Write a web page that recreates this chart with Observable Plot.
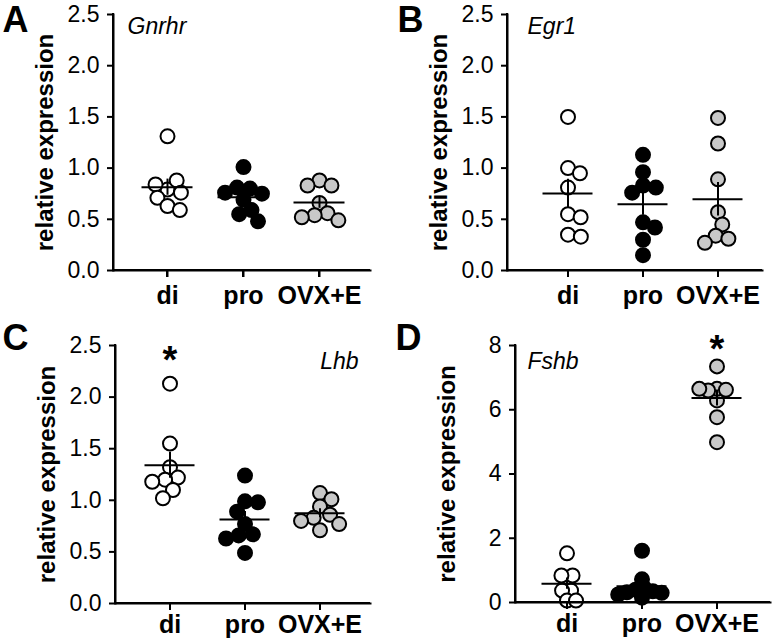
<!DOCTYPE html>
<html><head><meta charset="utf-8">
<script src="https://cdn.jsdelivr.net/npm/d3@7"></script>
<script src="https://cdn.jsdelivr.net/npm/@observablehq/plot@0.6"></script>
<style>
body{margin:0;background:#fff;}
#fig{position:relative;width:773px;height:644px;background:#fff;}
.p{position:absolute;}
.ax{position:absolute;background:#000;z-index:10;}
</style></head><body><div id="fig"></div>
<script>
const groups = ["di", "pro", "OVX+E"];
const groupColors = ["#ffffff", "#000000", "#c8c8c8"];

// Panel A — Gnrhr
const gnrhrDi  = [1.31, 0.79, 0.88, 0.84, 0.76, 0.71, 0.63, 0.59];
const gnrhrPro = [1.01, 0.69, 0.80, 0.81, 0.76, 0.75, 0.59, 0.55, 0.48];
const gnrhrOvx = [0.88, 0.66, 0.83, 0.83, 0.56, 0.54, 0.52, 0.49];
// Panel B — Egr1
const egr1Di  = [1.50, 1.00, 0.95, 0.81, 0.55, 0.52, 0.35, 0.33];
const egr1Pro = [1.13, 0.96, 0.83, 0.81, 0.76, 0.47, 0.42, 0.30, 0.15];
const egr1Ovx = [1.49, 1.24, 0.89, 0.57, 0.45, 0.34, 0.31, 0.27];
// Panel C — Lhb
const lhbDi  = [2.13, 1.55, 1.32, 1.22, 1.20, 1.18, 1.10, 1.02];
const lhbPro = [1.24, 0.99, 0.98, 0.89, 0.77, 0.67, 0.66, 0.63, 0.49];
const lhbOvx = [1.07, 1.01, 0.94, 0.86, 0.83, 0.80, 0.77, 0.71];
// Panel D — Fshb
const fshbDi  = [1.53, 0.62, 0.84, 0.84, 0.37, 0.37, 0.06, 0.06];
const fshbPro = [1.61, 0.72, 0.45, 0.40, 0.35, 0.32, 0.30, 0.25, 0.15];
const fshbOvx = [7.35, 6.29, 6.65, 6.62, 6.60, 6.65, 5.77, 4.99];

// significance markers (group, value level)
const starsC = [{group: "di", y: 2.35}];
const starsD = [{group: "OVX+E", y: 7.87}];

const yTicksA = [0, 0.5, 1.0, 1.5, 2.0, 2.5];
const yTicksD = [0, 2, 4, 6, 8];

const OUTER = 0.19;
const panels = [
  {letter: "A", gene: "Gnrhr", series: [gnrhrDi, gnrhrPro, gnrhrOvx], ticks: yTicksA, fmt: ".1f", stars: [],
   left: 0, top: 0, width: 386, height: 322, mL: 113, mR: 16, mT: 14, mB: 52, align: 0.55, xPad: 9,
   geneAnchor: "top-left", geneDx: 14, geneDy: 3, letterDx: -98, letterDy: 6, pad: -1},
  {letter: "B", gene: "Egr1", series: [egr1Di, egr1Pro, egr1Ovx], ticks: yTicksA, fmt: ".1f", stars: [],
   left: 390, top: 0, width: 383, height: 322, mL: 117, mR: 11, mT: 14, mB: 52, align: 0.77, xPad: 9,
   geneAnchor: "top-left", geneDx: 20, geneDy: 3, letterDx: -97, letterDy: 6, pad: -1},
  {letter: "C", gene: "Lhb", series: [lhbDi, lhbPro, lhbOvx], ticks: yTicksA, fmt: ".1f", stars: starsC,
   left: 0, top: 322, width: 386, height: 322, mL: 115, mR: 16, mT: 23, mB: 41, align: 0.55, xPad: 5,
   geneAnchor: "top-right", geneDx: -12, geneDy: 7, letterDx: -100, letterDy: -7, pad: -1},
  {letter: "D", gene: "Fshb", series: [fshbDi, fshbPro, fshbOvx], ticks: yTicksD, fmt: "d", stars: starsD,
   left: 390, top: 322, width: 383, height: 322, mL: 125, mR: 3, mT: 23, mB: 42, align: 0.45, xPad: 5,
   geneAnchor: "top-left", geneDx: 12, geneDy: 7, letterDx: -107, letterDy: -7, pad: -5}
];

const FONT = "Liberation Sans, Arial, Helvetica, sans-serif";
const semLo = v => d3.mean(v) - d3.deviation(v) / Math.sqrt(v.length);
const semHi = v => d3.mean(v) + d3.deviation(v) / Math.sqrt(v.length);

// Beeswarm: dodge points horizontally around each group's centre (pixel space).
function dodgeGroups(r, pad, options) {
  return Plot.initializer(options, (data, facets, channels, scales) => {
    const xs = scales.x, ys = scales.y;
    const XV = channels.x.value, YV = channels.y.value;
    const D = 2 * r + pad;
    const X = new Float64Array(XV.length), Y = new Float64Array(YV.length);
    for (const I of facets) {
      for (const [g, idx] of d3.group(I, i => XV[i])) {
        const cx = xs(g);
        const placed = [];
        for (const i of idx) {
          const y = ys(YV[i]);
          Y[i] = y;
          const cands = [0];
          for (const j of placed) {
            const dy = Y[j] - y;
            if (Math.abs(dy) < D) {
              const dx = Math.sqrt(D * D - dy * dy);
              cands.push(X[j] - cx + dx, X[j] - cx - dx);
            }
          }
          cands.sort((a, b) => Math.abs(a) - Math.abs(b));
          let best = cands[cands.length - 1];
          for (const c of cands) {
            if (placed.every(j => (X[j] - cx - c) ** 2 + (Y[j] - y) ** 2 >= D * D - 1e-6)) { best = c; break; }
          }
          X[i] = cx + best;
          placed.push(i);
        }
      }
    }
    return {data, facets, channels: {x: {value: X}, y: {value: Y}}};
  });
}

function axisPiece(l, t, w, h) {
  const d = document.createElement("div");
  d.className = "ax";
  d.style.left = l + "px"; d.style.top = t + "px";
  d.style.width = w + "px"; d.style.height = h + "px";
  fig.appendChild(d);
}

const fig = document.getElementById("fig");
for (const p of panels) {
  const data = groups.flatMap((g, i) => p.series[i].map(v => ({group: g, value: v})));
  const y0 = p.ticks[0], y1 = p.ticks[p.ticks.length - 1];
  const chart = Plot.plot({
    width: p.width, height: p.height,
    marginLeft: p.mL, marginRight: p.mR, marginTop: p.mT, marginBottom: p.mB,
    style: {fontFamily: FONT, color: "#000", background: "#fff", overflow: "visible"},
    x: {type: "band", domain: groups, paddingInner: 0, paddingOuter: OUTER, align: p.align},
    y: {domain: [y0, y1]},
    color: {domain: groups, range: groupColors},
    marks: [
      Plot.axisY({ticks: p.ticks, tickFormat: d3.format(p.fmt), tickSize: 6, tickPadding: 8,
        fontSize: 23, strokeWidth: 2, label: null}),
      Plot.axisX({tickSize: 7, tickPadding: p.xPad, fontSize: 25, fontWeight: "bold",
        strokeWidth: 2, label: null}),
      Plot.dot(data, dodgeGroups(7, p.pad,
        {x: "group", y: "value", r: 7, fill: "group", stroke: "#000", strokeWidth: 2})),
      Plot.tickY(data, Plot.groupX({y: "mean"},
        {x: "group", y: "value", insetLeft: 12.5, insetRight: 12.5, stroke: "#000", strokeWidth: 2})),
      Plot.ruleX(data, Plot.groupX({y1: semLo, y2: semHi},
        {x: "group", y1: "value", y2: "value", stroke: "#000", strokeWidth: 2})),
      Plot.text(p.stars, {x: "group", y: "y", text: () => "*", fontSize: 38, fontWeight: "bold",
        lineAnchor: "middle"}),
      Plot.text([p.gene], {frameAnchor: p.geneAnchor, dx: p.geneDx, dy: p.geneDy,
        text: d => d, fontSize: 23, fontStyle: "italic", lineAnchor: "top"}),
      Plot.text(["relative expression"], {frameAnchor: "left", dx: -68, rotate: -90,
        text: d => d, fontSize: 24, fontWeight: "bold", textAnchor: "middle", lineAnchor: "middle"}),
      Plot.text([p.letter], {frameAnchor: "top-left", dx: p.letterDx, dy: p.letterDy,
        text: d => d, fontSize: 36, fontWeight: "bold", textAnchor: "middle", lineAnchor: "middle"}),
      Plot.frame({anchor: "left", stroke: "#000", strokeWidth: 2}),
      Plot.frame({anchor: "bottom", stroke: "#000", strokeWidth: 2})
    ]
  });
  const wrap = document.createElement("div");
  wrap.className = "p";
  wrap.style.left = p.left + "px";
  wrap.style.top = p.top + "px";
  wrap.appendChild(chart);
  fig.appendChild(wrap);

  // Axis lines and x tick marks, placed with the chart's own scales
  const ys = chart.scale("y"), xs = chart.scale("x");
  const yB = ys.apply(y0), yT = ys.apply(y1);
  const xL = xs.range[0], xR = xs.range[1];
  const bw = xs.bandwidth || 0;
  const frameW = p.width - p.mL - p.mR;
  const step = frameW / (groups.length + 2 * OUTER);
  const outL = (frameW - groups.length * step) * p.align;
  axisPiece(p.left + xL - 1, p.top + yT - 1, 2, yB - yT + 2);
  axisPiece(p.left + xL - 1, p.top + yB - 1, xR - xL + 1, 2);
  groups.forEach((g, k) => {
    const s = xs.apply(g);
    const start = p.mL + outL + k * step;
    const cx = Math.abs(s - start) < 2 ? s + bw / 2 : s;
    axisPiece(p.left + Math.round(cx) - 1, p.top + yB, 2, 7);
  });
}
</script></body></html>
